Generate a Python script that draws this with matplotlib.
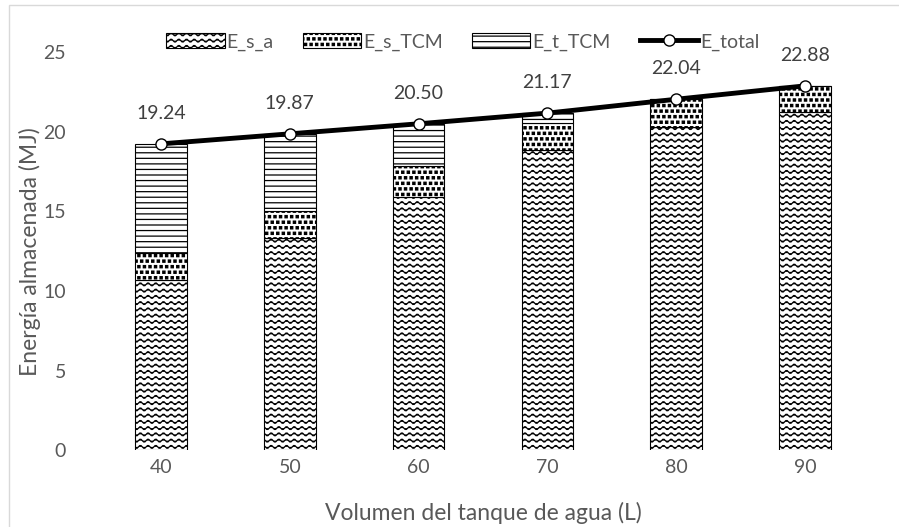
import numpy as np
import matplotlib
matplotlib.use("Agg")
import matplotlib.pyplot as plt
import matplotlib.hatch as mhatch
from matplotlib.path import Path
from matplotlib.patches import Rectangle, Patch
from matplotlib.lines import Line2D

volumes = ["40", "50", "60", "70", "80", "90"]
e_s_a = [10.70, 13.32, 15.93, 18.86, 20.29, 21.27]
e_s_tcm = [1.72, 1.73, 1.95, 1.68, 1.75, 1.61]
e_total = [19.24, 19.87, 20.50, 21.17, 22.04, 22.88]
# whatever is left on top of the two sensible parts
e_t_tcm = [round(t - a - s, 2) for t, a, s in zip(e_total, e_s_a, e_s_tcm)]

series_names = ["E_s_a", "E_s_TCM", "E_t_TCM", "E_total"]


# wavy hatch, used through the 'O' character
class WaveHatch(mhatch.HatchPatternBase):
    rows_per_char = 16
    waves = 13
    steps = 6

    def __init__(self, hatch, density):
        n = hatch.count('O')
        self.num_rows = n * self.rows_per_char
        self.pts = self.waves * self.steps + 1
        self.num_vertices = self.num_rows * self.pts

    def set_vertices_and_codes(self, vertices, codes):
        xs = np.linspace(0.0, 1.0, self.pts)
        for r in range(self.num_rows):
            y0 = (r + 0.5) / self.num_rows
            sl = slice(r * self.pts, (r + 1) * self.pts)
            vertices[sl, 0] = xs
            vertices[sl, 1] = y0 + 0.015 * np.sin(2 * np.pi * self.waves * xs)
            codes[sl] = Path.LINETO
            codes[r * self.pts] = Path.MOVETO


# small square dots, used through the '.' character
class SquareDots(mhatch.Shapes):
    size = 0.2
    filled = True
    shape_vertices = np.array([[-1, -1], [1, -1], [1, 1], [-1, 1], [-1, -1]], float)
    shape_codes = np.array([Path.MOVETO, Path.LINETO, Path.LINETO,
                            Path.LINETO, Path.CLOSEPOLY], dtype=Path.code_type)

    def __init__(self, hatch, density):
        self.num_rows = hatch.count('.') * density
        super().__init__(hatch, density)


mhatch._hatch_types = [t for t in mhatch._hatch_types
                       if t not in (mhatch.LargeCircles, mhatch.SmallFilledCircles)]
mhatch._hatch_types += [WaveHatch, SquareDots]

plt.rcParams['font.family'] = ['Lato', 'DejaVu Sans']
plt.rcParams['hatch.linewidth'] = 0.9
plt.rcParams['hatch.color'] = 'black'

gray = '#595959'

fig = plt.figure(figsize=(8.99, 5.27), dpi=100)
ax = fig.add_axes([0.1075, 0.1452, 0.8596, 0.756])

x = np.arange(len(volumes))
w = 0.40
bottom2 = [a + s for a, s in zip(e_s_a, e_s_tcm)]
ax.bar(x, e_s_a, w, color='white', edgecolor='black', linewidth=0.8, hatch='O')
ax.bar(x, e_s_tcm, w, bottom=e_s_a, color='white', edgecolor='black',
       linewidth=0.8, hatch='...')
ax.bar(x, e_t_tcm, w, bottom=bottom2, color='white', edgecolor='black',
       linewidth=0.8, hatch='---')
ax.plot(x, e_total, color='black', linewidth=3.5, marker='o', markersize=8,
        markerfacecolor='white', markeredgecolor='black', markeredgewidth=1,
        zorder=5)

for xi, t in zip(x, e_total):
    ax.annotate(f"{t:.2f}", (xi, t), xytext=(0, 22), textcoords='offset points',
                ha='center', va='center', fontsize=14, color='#404040')

ax.set_xlim(-0.5, len(volumes) - 0.5)
ax.set_ylim(0, 25)
ax.set_yticks([0, 5, 10, 15, 20, 25])
ax.set_xticks(x)
ax.set_xticklabels(volumes)
ax.tick_params(length=0, labelsize=14, colors=gray)
ax.tick_params(axis='x', pad=6)
ax.tick_params(axis='y', pad=22)
for s in ax.spines.values():
    s.set_visible(False)

ax.set_xlabel("Volumen del tanque de agua (L)", fontsize=16.5, color=gray, labelpad=19)
ax.set_ylabel("Energía almacenada (MJ)", fontsize=16.5, color=gray, labelpad=2)

handles = [
    Patch(facecolor='white', edgecolor='black', hatch='O', linewidth=0.8),
    Patch(facecolor='white', edgecolor='black', hatch='...', linewidth=0.8),
    Patch(facecolor='white', edgecolor='black', hatch='---', linewidth=0.8),
    Line2D([], [], color='black', linewidth=3.5, marker='o', markersize=8,
           markerfacecolor='white', markeredgecolor='black'),
]
leg = ax.legend(handles, series_names, loc='center', bbox_to_anchor=(0.474, 1.025),
                ncol=4, frameon=False, fontsize=14, handlelength=3.0,
                handleheight=0.8, handletextpad=0.1, columnspacing=1.5)
for t in leg.get_texts():
    t.set_color(gray)

fig.add_artist(Rectangle((9 / 899, -0.01), 1.02, 1 - 5 / 527 + 0.01,
                         transform=fig.transFigure, fill=False,
                         edgecolor='#d9d9d9', linewidth=1))

fig.savefig("out.png", dpi=100)
